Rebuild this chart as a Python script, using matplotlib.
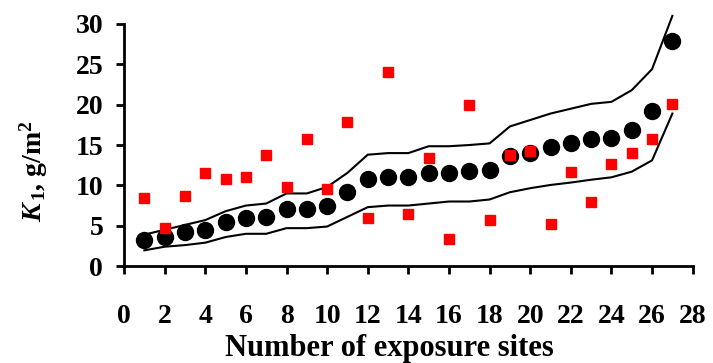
import numpy as np
import matplotlib
matplotlib.use('Agg')
import matplotlib.pyplot as plt

# exposure sites
sites = list(range(1, 28))

# mean K1 (black circles)
k1_mean = [3.2, 3.6, 4.2, 4.5, 5.4, 5.9, 6.1, 7.1, 7.1, 7.5, 9.2, 10.8, 11.0, 11.05,
           11.5, 11.5, 11.75, 11.95, 13.7, 14.0, 14.8, 15.3, 15.8, 15.9, 16.8, 19.2, 27.9]

# measured K1 (red squares)
k1_meas = [8.45, 4.7, 8.65, 11.5, 10.75, 11.0, 13.8, 9.85, 15.7, 9.6, 17.8, 5.9, 24.1, 6.4,
           13.4, 3.4, 19.9, 5.7, 13.8, 14.2, 5.2, 11.7, 8.0, 12.7, 14.0, 15.7, 20.1]

# confidence band
upper = [3.9, 4.5, 5.1, 5.7, 6.8, 7.5, 7.75, 9.0, 9.0, 9.8, 11.55, 13.8, 14.0, 14.0,
         14.85, 14.85, 15.0, 15.2, 17.3, 18.1, 18.9, 19.5, 20.1, 20.35, 21.8, 24.4, 31.0]
lower = [1.95, 2.4, 2.6, 2.9, 3.6, 4.0, 4.0, 4.7, 4.7, 4.9, 6.1, 7.3, 7.5, 7.5,
         7.75, 8.0, 8.0, 8.25, 9.15, 9.65, 10.05, 10.35, 10.7, 11.0, 11.7, 13.1, 18.9]

plt.rcParams['font.family'] = 'Liberation Serif'
plt.rcParams['font.weight'] = 'bold'
plt.rcParams['mathtext.fontset'] = 'custom'
plt.rcParams['mathtext.rm'] = 'Liberation Serif:bold'
plt.rcParams['mathtext.bf'] = 'Liberation Serif:bold'
plt.rcParams['mathtext.it'] = 'Liberation Serif:italic:bold'

fig = plt.figure(figsize=(7.13, 3.63), dpi=100)
ax = fig.add_axes([0.174, 0.267, 0.7975, 0.667])

ax.plot(sites, upper, color='black', lw=1.5, clip_on=False)
ax.plot(sites, lower, color='black', lw=1.5, clip_on=False)
ax.plot(sites, k1_mean, 'o', color='black', ms=11.5, clip_on=False)
ax.plot(sites, k1_meas, 's', color='#ff0000', ms=7.5, clip_on=False)

ax.set_xlim(0, 28)
ax.set_ylim(0, 30)
ax.set_xticks(range(0, 29, 2))
ax.set_yticks(range(0, 31, 5))
ax.tick_params(direction='out', length=6, width=2, labelsize=20)
ax.tick_params(axis='x', pad=21)
ax.tick_params(axis='y', pad=9)
for lab in ax.get_xticklabels() + ax.get_yticklabels():
    lab.set_fontweight('bold')

for s in ['top', 'right']:
    ax.spines[s].set_visible(False)
for s in ['left', 'bottom']:
    ax.spines[s].set_linewidth(2)

ax.set_xlabel('Number of exposure sites', fontsize=22, fontweight='bold')
ax.xaxis.set_label_coords(0.467, -0.282)
ax.set_ylabel(r'$\mathit{K}_{\,\mathrm{1}}$, g/m$^{\mathrm{2}}$', fontsize=20, fontweight='bold')
ax.yaxis.set_label_coords(-0.13, 0.39)

fig.savefig('out.png', dpi=100)
